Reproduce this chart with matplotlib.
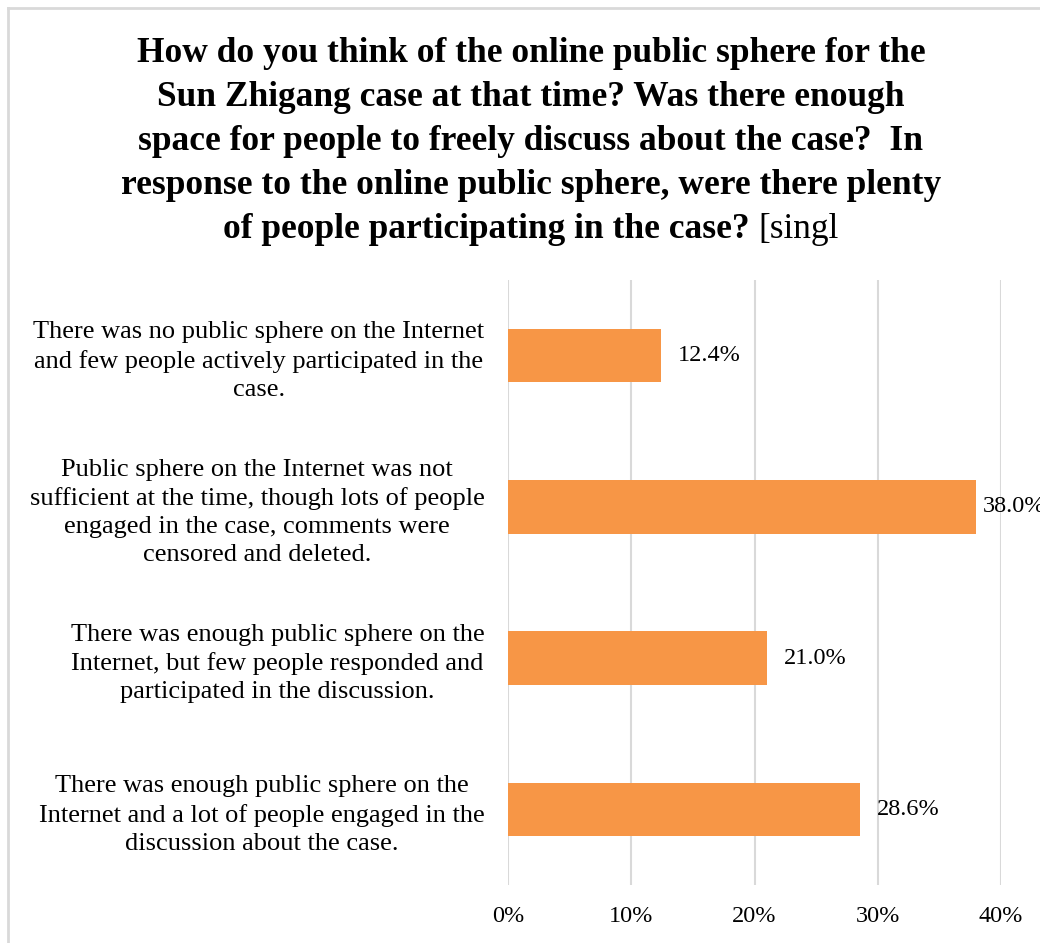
import matplotlib
matplotlib.use("Agg")
import matplotlib.pyplot as plt
from matplotlib.lines import Line2D
from matplotlib.ticker import MultipleLocator, PercentFormatter

plt.rcParams["font.family"] = ["Liberation Serif", "DejaVu Serif"]

categories = [
    "There was no public sphere on the Internet\nand few people actively participated in the\ncase.",
    "Public sphere on the Internet was not\nsufficient at the time, though lots of people\nengaged in the case, comments were\ncensored and deleted.",
    "There was enough public sphere on the\nInternet, but few people responded and\nparticipated in the discussion.",
    "There was enough public sphere on the\nInternet and a lot of people engaged in the\ndiscussion about the case.",
]
shares = [12.4, 38.0, 21.0, 28.6]
value_labels = ["12.4%", "38.0%", "21.0%", "28.6%"]

title_lines = [
    "How do you think of the online public sphere for the",
    "Sun Zhigang case at that time? Was there enough",
    "space for people to freely discuss about the case?  In",
    "response to the online public sphere, were there plenty",
]
title_tail_bold = "of people participating in the case?"
title_tail_plain = "[singl"

W, H = 1040, 943
fig = plt.figure(figsize=(W / 100, H / 100), dpi=100)
fig.patch.set_facecolor("white")

# chart frame (only left and top edges fall inside the figure)
frame_kw = dict(color="#d9d9d9", lw=2, transform=fig.transFigure)
fig.add_artist(Line2D([8 / W, 8 / W], [0, 1 - 8 / H], **frame_kw))
fig.add_artist(Line2D([8 / W, 1.0], [1 - 8 / H, 1 - 8 / H], **frame_kw))

ax = fig.add_axes([508 / W, 58 / H, 493 / W, 605 / H])
y = range(len(categories))
ax.barh(y, shares, height=0.355, color="#f79646", zorder=3)
ax.set_xlim(0, 40)
ax.set_ylim(3.5, -0.5)
ax.xaxis.set_major_locator(MultipleLocator(10))
ax.xaxis.set_major_formatter(PercentFormatter(decimals=0))
ax.set_yticks(list(y))
ax.set_yticklabels(categories, multialignment="center", fontsize=19,
                   linespacing=1.36)
ax.tick_params(axis="y", length=0, pad=17)
ax.tick_params(axis="x", length=0, pad=15, labelsize=17.5)
ax.grid(axis="x", color="#d9d9d9", lw=1.5, zorder=0)
for s in ax.spines.values():
    s.set_visible(False)

xmax = ax.get_xlim()[1]
for yi, v, lab in zip(y, shares, value_labels):
    # labels near the right edge are pulled in closer to the bar
    off = 4.5 if v > xmax - 5 else 12
    ax.annotate(lab, (v, yi), xytext=(off, 0), textcoords="offset points",
                va="center", ha="left", fontsize=17.5, annotation_clip=False)

# title, last line mixes bold and regular text
cx = 531 / W
line_h = 44 / H
top = 1 - 54 / H
for i, line in enumerate(title_lines):
    fig.text(cx, top - i * line_h, line, ha="center", va="center",
             fontsize=25.5, fontweight="bold")

ly = top - len(title_lines) * line_h
fig.canvas.draw()
r = fig.canvas.get_renderer()
tb = fig.text(0, ly, title_tail_bold + " ", ha="left", va="center",
              fontsize=25.5, fontweight="bold")
tp = fig.text(0, ly, title_tail_plain, ha="left", va="center", fontsize=25.5)
wb = tb.get_window_extent(r).width / W
wp = tp.get_window_extent(r).width / W
x0 = cx - (wb + wp) / 2
tb.set_x(x0)
tp.set_x(x0 + wb)

fig.savefig("out.png", dpi=100, facecolor="white")
